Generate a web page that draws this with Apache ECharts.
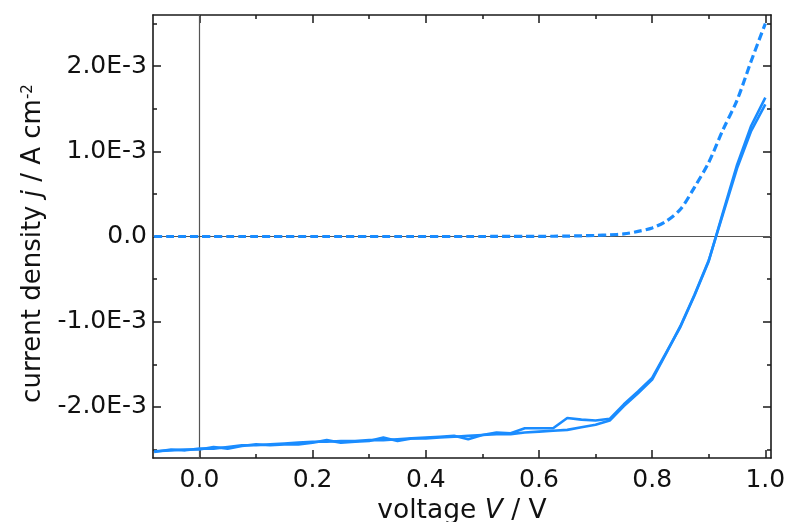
<!DOCTYPE html>
<html><head><meta charset="utf-8">
<script src="https://cdn.jsdelivr.net/npm/echarts@6/dist/echarts.min.js"></script>
<style>html,body{margin:0;padding:0;background:#fff}#c{width:788px;height:522px}</style>
</head><body><div id="c"></div><script>
// voltage V / V
const voltage = [-0.08,-0.05,-0.025,0,0.025,0.05,0.075,0.1,0.125,0.15,0.175,0.2,0.225,0.25,0.275,0.3,0.325,0.35,0.375,0.4,0.425,0.45,0.475,0.5,0.525,0.55,0.575,0.6,0.625,0.65,0.675,0.7,0.725,0.75,0.775,0.8,0.825,0.85,0.875,0.9,0.925,0.95,0.975,1.0];
// current density in units of 1E-3 A cm^-2
const jLightForward = [-2.52,-2.51,-2.50,-2.50,-2.47,-2.49,-2.46,-2.44,-2.45,-2.44,-2.44,-2.42,-2.39,-2.42,-2.41,-2.40,-2.36,-2.40,-2.37,-2.36,-2.35,-2.34,-2.38,-2.33,-2.30,-2.31,-2.25,-2.25,-2.25,-2.13,-2.15,-2.16,-2.14,-1.97,-1.82,-1.66,-1.36,-1.06,-0.69,-0.29,0.28,0.84,1.30,1.63];
const jLightReverse = [-2.53,-2.50,-2.51,-2.49,-2.49,-2.47,-2.45,-2.45,-2.44,-2.43,-2.42,-2.41,-2.41,-2.40,-2.40,-2.39,-2.39,-2.38,-2.37,-2.37,-2.36,-2.35,-2.34,-2.33,-2.32,-2.32,-2.30,-2.29,-2.28,-2.27,-2.24,-2.21,-2.16,-1.99,-1.84,-1.68,-1.37,-1.05,-0.68,-0.28,0.26,0.80,1.24,1.55];
const jDark = [0,0,0,0,0,0,0,0,0,0,0,0,0,0,0,0,0,0,0,0,0,0,0,0,0.001,0.001,0.002,0.002,0.003,0.005,0.008,0.012,0.02,0.03,0.06,0.10,0.18,0.32,0.58,0.87,1.25,1.60,2.06,2.50];
// ticks
const xMajorTicks = [0,0.2,0.4,0.6,0.8,1.0];
const xMinorTicks = [0.1,0.3,0.5,0.7,0.9];
const yMajorTicks = [-2,-1,0,1,2];
const yMinorTicks = [-2.5,-1.5,-0.5,0.5,1.5,2.5];
const yTickLabels = ["-2.0E-3","-1.0E-3","0.0","1.0E-3","2.0E-3"];

const X_MIN = -0.082, X_MAX = 1.01, Y_MIN = -2.6, Y_MAX = 2.6;
const FONT = 'DejaVu Sans';
const AX = '#1a1a1a';
const BLUE = '#1a8cff';

function baseAx(extra) {
  return Object.assign({
    type: 'value', gridIndex: 0,
    axisLine: { show: false, onZero: false },
    axisLabel: { show: false },
    splitLine: { show: false }
  }, extra);
}
function xAx(pos, ticks, len, opts) {
  return Object.assign(baseAx({ position: pos, min: X_MIN, max: X_MAX,
    axisTick: { show: true, inside: true, length: len, customValues: ticks, lineStyle: { color: AX, width: 1.5 } } }), opts || {});
}
function yAx(pos, ticks, len, opts) {
  return Object.assign(baseAx({ position: pos, min: Y_MIN, max: Y_MAX,
    axisTick: { show: true, inside: true, length: len, customValues: ticks, lineStyle: { color: AX, width: 1.5 } } }), opts || {});
}
const frameLine = { show: true, onZero: false, lineStyle: { color: AX, width: 1.6 } };

const chart = echarts.init(document.getElementById('c'), null, { renderer: 'canvas' });
chart.setOption({
  animation: false,
  backgroundColor: '#ffffff',
  grid: { left: 153, top: 15, width: 618, height: 443, containLabel: false, outerBoundsMode: 'none' },
  xAxis: [
    xAx('bottom', xMajorTicks, 8, {
      axisLine: frameLine,
      axisLabel: { show: true, customValues: xMajorTicks, margin: 10, color: '#111', fontFamily: FONT, fontSize: 25,
        formatter: v => v.toFixed(1) },
      name: '{n|voltage }{i|V}{n| / V}', nameLocation: 'middle', nameGap: 40,
      nameTextStyle: { rich: {
        n: { fontFamily: FONT, fontSize: 26.5, color: '#111' },
        i: { fontFamily: FONT, fontSize: 26.5, color: '#111', fontStyle: 'italic' } } }
    }),
    xAx('bottom', xMinorTicks, 4),
    xAx('top', xMajorTicks, 8, { axisLine: frameLine }),
    xAx('top', xMinorTicks, 4)
  ],
  yAxis: [
    yAx('left', yMajorTicks, 8, {
      axisLine: frameLine,
      axisLabel: { show: true, customValues: yMajorTicks, margin: 6, color: '#111', fontFamily: FONT, fontSize: 25,
        formatter: v => yTickLabels[yMajorTicks.indexOf(Math.round(v))] },
      name: '{n|current density }{i|j}{n| / A cm}{s|-2}', nameLocation: 'middle', nameGap: 100, nameRotate: 90,
      nameTextStyle: { padding: [0, 14, 0, 0], rich: {
        n: { fontFamily: FONT, fontSize: 26, color: '#111' },
        i: { fontFamily: FONT, fontSize: 26, color: '#111', fontStyle: 'italic' },
        s: { fontFamily: FONT, fontSize: 15, color: '#111', verticalAlign: 'top', lineHeight: 15 } } }
    }),
    yAx('left', yMinorTicks, 4),
    yAx('right', yMajorTicks, 8, { axisLine: frameLine }),
    yAx('right', yMinorTicks, 4)
  ],
  series: [
    {
      type: 'line', xAxisIndex: 0, yAxisIndex: 0, data: [], z: 1, silent: true,
      markLine: { silent: true, z: 1, symbol: ['none', 'none'], label: { show: false }, animation: false,
        lineStyle: { color: '#555', width: 1.2, type: 'solid' },
        data: [{ xAxis: 0 }, { yAxis: 0 }] }
    },
    {
      name: 'dark', type: 'line', xAxisIndex: 0, yAxisIndex: 0, z: 6, showSymbol: false, symbol: 'none', smooth: 0.3,
      lineStyle: { color: BLUE, width: 3.2, type: [8, 4] },
      data: voltage.map((v, i) => [v, jDark[i]])
    },
    {
      name: 'forward', type: 'line', xAxisIndex: 0, yAxisIndex: 0, z: 6, showSymbol: false, symbol: 'none',
      lineStyle: { color: BLUE, width: 2.6 },
      data: voltage.map((v, i) => [v, jLightForward[i]])
    },
    {
      name: 'reverse', type: 'line', xAxisIndex: 0, yAxisIndex: 0, z: 6, showSymbol: false, symbol: 'none',
      lineStyle: { color: BLUE, width: 2.6 },
      data: voltage.map((v, i) => [v, jLightReverse[i]])
    }
  ]
});
</script></body></html>
